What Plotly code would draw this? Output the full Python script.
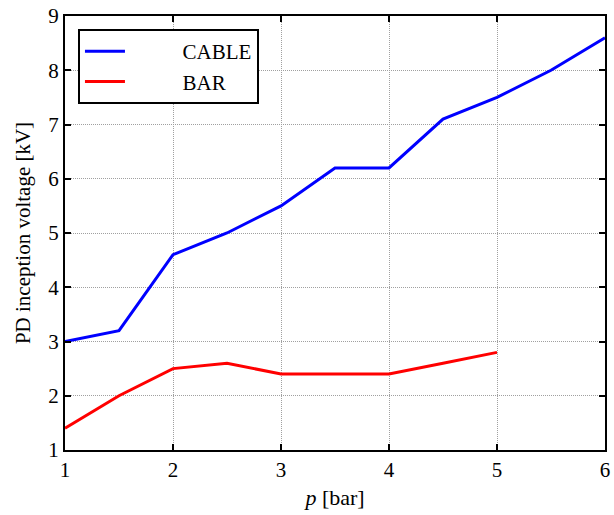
import plotly.graph_objects as go

p_cable = [1, 1.5, 2, 2.5, 3, 3.5, 4, 4.5, 5, 5.5, 6]
v_cable = [3.0, 3.2, 4.6, 5.0, 5.5, 6.2, 6.2, 7.1, 7.5, 8.0, 8.6]
p_bar = [1, 1.5, 2, 2.5, 3, 3.5, 4, 4.5, 5]
v_bar = [1.4, 2.0, 2.5, 2.6, 2.4, 2.4, 2.4, 2.6, 2.8]

FONT = "Liberation Serif"
PAD = "\u00a0" * 10

fig = go.Figure()
fig.add_trace(go.Scatter(x=p_cable, y=v_cable, mode="lines", name=PAD + "CABLE",
                         line=dict(color="#0000ff", width=3)))
fig.add_trace(go.Scatter(x=p_bar, y=v_bar, mode="lines", name=PAD + "BAR",
                         line=dict(color="#ff0000", width=3)))

axis_common = dict(
    showline=True, linecolor="black", linewidth=2, mirror="ticks",
    ticks="inside", ticklen=6, tickwidth=2, tickcolor="black",
    showgrid=True, gridcolor="#a0a0a0", griddash="1px,1px", gridwidth=1,
    zeroline=False, tickfont=dict(family=FONT, size=21, color="black"),
)

fig.update_layout(
    width=614, height=515,
    margin=dict(l=65, r=4, t=15, b=65),
    paper_bgcolor="white", plot_bgcolor="white",
    font=dict(family=FONT, size=21, color="black"),
    xaxis=dict(range=[1, 6], dtick=1, title=dict(text="<i>p</i> [bar]", standoff=8,
               font=dict(family=FONT, size=22)), **axis_common),
    yaxis=dict(range=[1, 9], dtick=1, title=dict(text="PD inception voltage [kV]", standoff=12,
               font=dict(family=FONT, size=21)), **axis_common),
    legend=dict(x=0.024, y=0.97, xanchor="left", yanchor="top",
                bgcolor="white", bordercolor="black", borderwidth=2,
                font=dict(family=FONT, size=21), tracegroupgap=0,
                itemwidth=40),
    showlegend=True,
)

fig.write_html("out.html")
